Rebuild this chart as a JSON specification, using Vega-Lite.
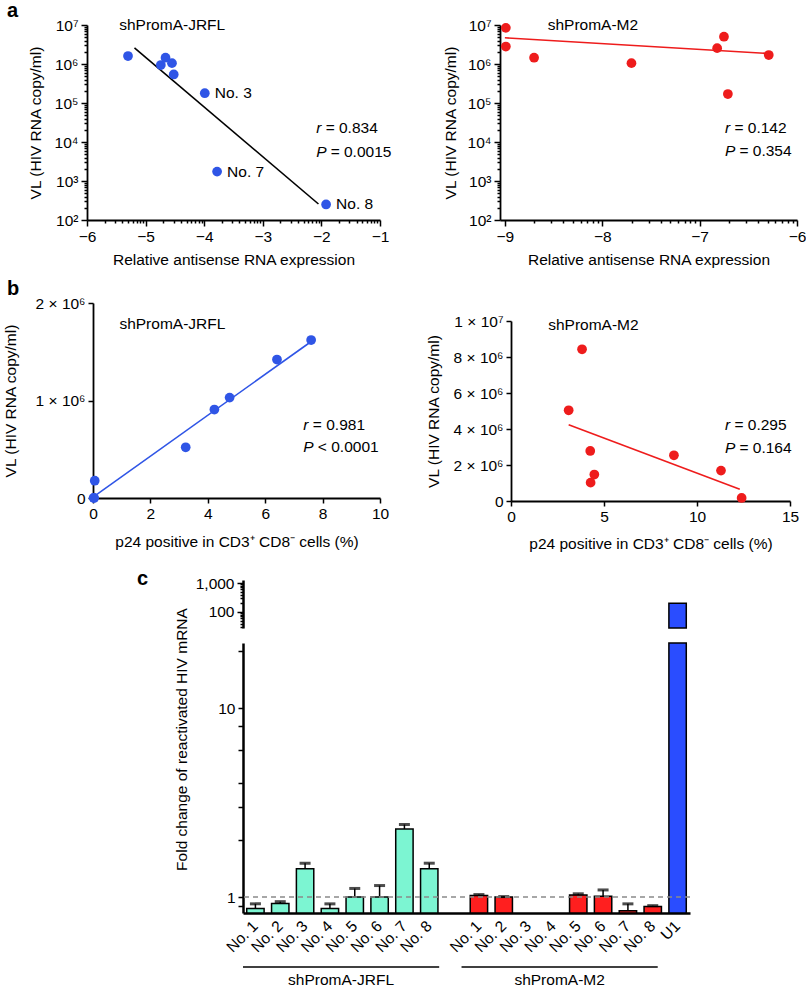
{
  "$schema": "https://vega.github.io/schema/vega-lite/v6.json",
  "padding": 0,
  "background": "white",
  "bounds": "flush",
  "spacing": 0,
  "config": {
    "view": {"stroke": null},
    "font": "Liberation Sans",
    "text": {"font": "Liberation Sans", "fontSize": 15.5, "color": "black"},
    "title": {"font": "Liberation Sans"},
    "axis": {"domainColor": "black", "domainWidth": 1.8, "tickColor": "black", "tickWidth": 1.5, "tickSize": 5,
      "labelFont": "Liberation Sans", "labelFontSize": 15.5, "labelColor": "black",
      "titleFont": "Liberation Sans", "titleFontSize": 15.5, "titleFontWeight": "normal", "titleColor": "black",
      "grid": false, "labelFlush": false, "labelOverlap": false, "labelPadding": 3, "titlePadding": 8}
  },
  "datasets": {
    "aL_pts": [
      {"x": -5.30, "vl": 1600000, "lab": ""},
      {"x": -4.74, "vl": 940000, "lab": ""},
      {"x": -4.66, "vl": 1450000, "lab": ""},
      {"x": -4.55, "vl": 1050000, "lab": ""},
      {"x": -4.52, "vl": 540000, "lab": ""},
      {"x": -3.99, "vl": 178000, "lab": "No. 3"},
      {"x": -3.78, "vl": 1740, "lab": "No. 7"},
      {"x": -1.92, "vl": 250, "lab": "No. 8"}
    ],
    "aL_fit": [{"x": -5.19, "vl": 2600000}, {"x": -2.05, "vl": 257}],
    "aL_txt": [{"x": -5.45, "vl": 10000000, "t": "shPromA-JRFL"}],
    "aL_stat": [{"x": -2.09, "vl": 22400, "sym": "r", "rest": "= 0.834"}, {"x": -2.09, "vl": 5600, "sym": "P", "rest": "= 0.0015"}],
    "aR_pts": [
      {"x": -8.99, "vl": 8450000},
      {"x": -8.99, "vl": 2800000},
      {"x": -8.70, "vl": 1450000},
      {"x": -7.70, "vl": 1050000},
      {"x": -6.82, "vl": 2550000},
      {"x": -6.75, "vl": 5000000},
      {"x": -6.71, "vl": 170000},
      {"x": -6.29, "vl": 1700000}
    ],
    "aR_fit": [{"x": -9.0, "vl": 4700000}, {"x": -6.32, "vl": 1870000}],
    "aR_txt": [{"x": -8.56, "vl": 10000000, "t": "shPromA-M2"}],
    "aR_stat": [{"x": -6.74, "vl": 22400, "sym": "r", "rest": "= 0.142"}, {"x": -6.74, "vl": 5800, "sym": "P", "rest": "= 0.354"}],
    "bL_pts": [
      {"p": 0.06, "vl": 177000},
      {"p": 0.02, "vl": 1740},
      {"p": 0.04, "vl": 250},
      {"p": 3.23, "vl": 520000},
      {"p": 4.23, "vl": 907000},
      {"p": 4.76, "vl": 1030000},
      {"p": 6.41, "vl": 1420000},
      {"p": 7.60, "vl": 1620000}
    ],
    "bL_fit": [{"p": 0.05, "vl": 20000}, {"p": 7.58, "vl": 1600000}],
    "bL_txt": [{"p": 0.92, "vl": 1780000, "t": "shPromA-JRFL"}],
    "bL_stat": [{"p": 7.33, "vl": 750000, "sym": "r", "rest": "= 0.981"}, {"p": 7.33, "vl": 520000, "sym": "P", "rest": "< 0.0001"}],
    "bR_pts": [
      {"p": 3.82, "vl": 8430000},
      {"p": 3.10, "vl": 5040000},
      {"p": 4.26, "vl": 2780000},
      {"p": 4.48, "vl": 1470000},
      {"p": 4.28, "vl": 1020000},
      {"p": 8.76, "vl": 2540000},
      {"p": 11.29, "vl": 1690000},
      {"p": 12.40, "vl": 170000}
    ],
    "bR_fit": [{"p": 3.1, "vl": 4240000}, {"p": 12.3, "vl": 650000}],
    "bR_txt": [{"p": 2.0, "vl": 9800000, "t": "shPromA-M2"}],
    "bR_stat": [{"p": 11.5, "vl": 4200000, "sym": "r", "rest": "= 0.295"}, {"p": 11.5, "vl": 2970000, "sym": "P", "rest": "= 0.164"}],
    "c": [
      {"cat": "J1", "grp": "JRFL", "v": 0.87, "err": 0.92},
      {"cat": "J2", "grp": "JRFL", "v": 0.925, "err": 0.945},
      {"cat": "J3", "grp": "JRFL", "v": 1.41, "err": 1.51},
      {"cat": "J4", "grp": "JRFL", "v": 0.87, "err": 0.92},
      {"cat": "J5", "grp": "JRFL", "v": 1.0, "err": 1.11},
      {"cat": "J6", "grp": "JRFL", "v": 1.0, "err": 1.15},
      {"cat": "J7", "grp": "JRFL", "v": 2.29, "err": 2.42},
      {"cat": "J8", "grp": "JRFL", "v": 1.41, "err": 1.51},
      {"cat": "M1", "grp": "M2", "v": 1.02, "err": 1.03},
      {"cat": "M2", "grp": "M2", "v": 1.0, "err": 1.005},
      {"cat": "M5", "grp": "M2", "v": 1.025, "err": 1.04},
      {"cat": "M6", "grp": "M2", "v": 1.01, "err": 1.09},
      {"cat": "M7", "grp": "M2", "v": 0.846, "err": 0.92},
      {"cat": "M8", "grp": "M2", "v": 0.89, "err": 0.9},
      {"cat": "U1", "grp": "U1", "v": 200}
    ],
    "cg": [
      {"grp": "shPromA-JRFL", "s": 0, "e": 7.9, "m": 3.95},
      {"grp": "shPromA-M2", "s": 8.8, "e": 16.7, "m": 12.75}
    ]
  },
  "vconcat": [
    {"width": 1, "height": 25, "data": {"values": []}, "mark": "point"},
    {
      "bounds": "flush", "spacing": 0,
      "hconcat": [
        {"width": 87, "height": 195, "data": {"values": []}, "mark": "point"},
        {
          "width": 293, "height": 195,
          "title": {"text": "a", "anchor": "start", "frame": "group", "fontSize": 20, "fontWeight": "bold", "dx": -80, "offset": -3},
          "encoding": {
            "x": {"field": "x", "type": "quantitative", "scale": {"domain": [-6, -1], "nice": false, "zero": false},
              "axis": {"title": "Relative antisense RNA expression", "labelOverlap": false, "labelFlush": false,
                "values": [-6, -5.69897, -5.52288, -5.39794, -5.30103, -5.22185, -5.1549, -5.09691, -5.04576, -5, -4.69897, -4.52288, -4.39794, -4.30103, -4.22185, -4.1549, -4.09691, -4.04576, -4, -3.69897, -3.52288, -3.39794, -3.30103, -3.22185, -3.1549, -3.09691, -3.04576, -3, -2.69897, -2.52288, -2.39794, -2.30103, -2.22185, -2.1549, -2.09691, -2.04576, -2, -1.69897, -1.52288, -1.39794, -1.30103, -1.22185, -1.1549, -1.09691, -1.04576, -1],
                "labelExpr": "datum.value == -6 ? '−6' : datum.value == -5 ? '−5' : datum.value == -4 ? '−4' : datum.value == -3 ? '−3' : datum.value == -2 ? '−2' : datum.value == -1 ? '−1' : ''",
                "tickSize": {"condition": {"test": "datum.value == round(datum.value)", "value": 6}, "value": 3}}},
            "y": {"field": "vl", "type": "quantitative", "scale": {"type": "log", "domain": [100, 10000000], "nice": false},
              "axis": {"title": "VL (HIV RNA copy/ml)", "labelOverlap": false, "titlePadding": 11,
                "values": [100, 200, 300, 400, 500, 600, 700, 800, 900, 1000, 2000, 3000, 4000, 5000, 6000, 7000, 8000, 9000, 10000, 20000, 30000, 40000, 50000, 60000, 70000, 80000, 90000, 100000, 200000, 300000, 400000, 500000, 600000, 700000, 800000, 900000, 1000000, 2000000, 3000000, 4000000, 5000000, 6000000, 7000000, 8000000, 9000000, 10000000],
                "labelExpr": "datum.value == 100 ? '10²' : datum.value == 1000 ? '10³' : datum.value == 10000 ? '10⁴' : datum.value == 100000 ? '10⁵' : datum.value == 1000000 ? '10⁶' : datum.value == 10000000 ? '10⁷' : ''",
                "tickSize": {"condition": {"test": "indexof([100, 1000, 10000, 100000, 1000000, 10000000], datum.value) >= 0", "value": 6}, "value": 3}}}
          },
          "layer": [
            {"data": {"name": "aL_fit"}, "mark": {"type": "line", "color": "black", "strokeWidth": 1.6}, "encoding": {}},
            {"data": {"name": "aL_pts"}, "mark": {"type": "point", "filled": true, "opacity": 1, "size": 95, "color": "#2f55e6"}},
            {"data": {"name": "aL_pts"}, "mark": {"type": "text", "align": "left", "baseline": "middle", "dx": 10}, "encoding": {"text": {"field": "lab"}}},
            {"data": {"name": "aL_txt"}, "mark": {"type": "text", "align": "left", "baseline": "middle"}, "encoding": {"text": {"field": "t"}}},
            {"data": {"name": "aL_stat"}, "mark": {"type": "text", "align": "left", "baseline": "middle", "fontStyle": "italic"}, "encoding": {"text": {"field": "sym"}}},
            {"data": {"name": "aL_stat"}, "transform": [{"filter": "datum.sym == 'r'"}], "mark": {"type": "text", "align": "left", "baseline": "middle", "dx": 9.5}, "encoding": {"text": {"field": "rest"}}},
            {"data": {"name": "aL_stat"}, "transform": [{"filter": "datum.sym == 'P'"}], "mark": {"type": "text", "align": "left", "baseline": "middle", "dx": 14.5}, "encoding": {"text": {"field": "rest"}}}
          ]
        },
        {"width": 120, "height": 195, "data": {"values": []}, "mark": "point"},
        {
          "width": 297, "height": 195,
          "encoding": {
            "x": {"field": "x", "type": "quantitative", "scale": {"domain": [-9.05, -6], "nice": false, "zero": false},
              "axis": {"title": "Relative antisense RNA expression", "labelOverlap": false, "labelFlush": false,
                "values": [-9, -8.69897, -8.52288, -8.39794, -8.30103, -8.22185, -8.1549, -8.09691, -8.04576, -8, -7.69897, -7.52288, -7.39794, -7.30103, -7.22185, -7.1549, -7.09691, -7.04576, -7, -6.69897, -6.52288, -6.39794, -6.30103, -6.22185, -6.1549, -6.09691, -6.04576, -6],
                "labelExpr": "datum.value == -9 ? '−9' : datum.value == -8 ? '−8' : datum.value == -7 ? '−7' : datum.value == -6 ? '−6' : ''",
                "tickSize": {"condition": {"test": "datum.value == round(datum.value)", "value": 6}, "value": 3}}},
            "y": {"field": "vl", "type": "quantitative", "scale": {"type": "log", "domain": [100, 10000000], "nice": false},
              "axis": {"title": "VL (HIV RNA copy/ml)", "labelOverlap": false, "titlePadding": 9,
                "values": [100, 200, 300, 400, 500, 600, 700, 800, 900, 1000, 2000, 3000, 4000, 5000, 6000, 7000, 8000, 9000, 10000, 20000, 30000, 40000, 50000, 60000, 70000, 80000, 90000, 100000, 200000, 300000, 400000, 500000, 600000, 700000, 800000, 900000, 1000000, 2000000, 3000000, 4000000, 5000000, 6000000, 7000000, 8000000, 9000000, 10000000],
                "labelExpr": "datum.value == 100 ? '10²' : datum.value == 1000 ? '10³' : datum.value == 10000 ? '10⁴' : datum.value == 100000 ? '10⁵' : datum.value == 1000000 ? '10⁶' : datum.value == 10000000 ? '10⁷' : ''",
                "tickSize": {"condition": {"test": "indexof([100, 1000, 10000, 100000, 1000000, 10000000], datum.value) >= 0", "value": 6}, "value": 3}}}
          },
          "layer": [
            {"data": {"name": "aR_fit"}, "mark": {"type": "line", "color": "#ee1c1c", "strokeWidth": 1.6}, "encoding": {}},
            {"data": {"name": "aR_pts"}, "mark": {"type": "point", "filled": true, "opacity": 1, "size": 95, "color": "#ee1c1c"}},
            {"data": {"name": "aR_txt"}, "mark": {"type": "text", "align": "left", "baseline": "middle"}, "encoding": {"text": {"field": "t"}}},
            {"data": {"name": "aR_stat"}, "mark": {"type": "text", "align": "left", "baseline": "middle", "fontStyle": "italic"}, "encoding": {"text": {"field": "sym"}}},
            {"data": {"name": "aR_stat"}, "transform": [{"filter": "datum.sym == 'r'"}], "mark": {"type": "text", "align": "left", "baseline": "middle", "dx": 9.5}, "encoding": {"text": {"field": "rest"}}},
            {"data": {"name": "aR_stat"}, "transform": [{"filter": "datum.sym == 'P'"}], "mark": {"type": "text", "align": "left", "baseline": "middle", "dx": 14.5}, "encoding": {"text": {"field": "rest"}}}
          ]
        }
      ]
    },
    {"width": 1, "height": 278, "data": {"values": []}, "mark": "point"},
    {
      "bounds": "flush", "spacing": 0,
      "hconcat": [
        {"width": 93, "height": 195, "data": {"values": []}, "mark": "point"},
        {
          "width": 287, "height": 195,
          "title": {"text": "b", "anchor": "start", "frame": "group", "fontSize": 20, "fontWeight": "bold", "dx": -86, "offset": -3},
          "encoding": {
            "x": {"field": "p", "type": "quantitative", "scale": {"domain": [0, 10], "nice": false},
              "axis": {"title": "p24 positive in CD3⁺ CD8⁻ cells (%)", "values": [0, 2, 4, 6, 8, 10], "titlePadding": 13}},
            "y": {"field": "vl", "type": "quantitative", "scale": {"domain": [0, 2000000], "nice": false},
              "axis": {"title": "VL (HIV RNA copy/ml)", "values": [0, 1000000, 2000000], "titlePadding": 17,
                "labelExpr": "datum.value == 0 ? '0' : (datum.value / 1000000) + ' × 10⁶'"}}
          },
          "layer": [
            {"data": {"name": "bL_fit"}, "mark": {"type": "line", "color": "#2f55e6", "strokeWidth": 1.6}, "encoding": {}},
            {"data": {"name": "bL_pts"}, "mark": {"type": "point", "filled": true, "opacity": 1, "size": 95, "color": "#2f55e6"}},
            {"data": {"name": "bL_txt"}, "mark": {"type": "text", "align": "left", "baseline": "middle"}, "encoding": {"text": {"field": "t"}}},
            {"data": {"name": "bL_stat"}, "mark": {"type": "text", "align": "left", "baseline": "middle", "fontStyle": "italic"}, "encoding": {"text": {"field": "sym"}}},
            {"data": {"name": "bL_stat"}, "transform": [{"filter": "datum.sym == 'r'"}], "mark": {"type": "text", "align": "left", "baseline": "middle", "dx": 9.5}, "encoding": {"text": {"field": "rest"}}},
            {"data": {"name": "bL_stat"}, "transform": [{"filter": "datum.sym == 'P'"}], "mark": {"type": "text", "align": "left", "baseline": "middle", "dx": 14.5}, "encoding": {"text": {"field": "rest"}}}
          ]
        },
        {"width": 131, "height": 195, "data": {"values": []}, "mark": "point"},
        {
          "bounds": "flush", "spacing": 0,
          "vconcat": [
            {"width": 1, "height": 18, "data": {"values": []}, "mark": "point"},
            {
              "width": 279, "height": 180,
              "encoding": {
                "x": {"field": "p", "type": "quantitative", "scale": {"domain": [0, 15], "nice": false},
                  "axis": {"title": "p24 positive in CD3⁺ CD8⁻ cells (%)", "values": [0, 5, 10, 15], "titlePadding": 12}},
                "y": {"field": "vl", "type": "quantitative", "scale": {"domain": [0, 10000000], "nice": false},
                  "axis": {"title": "VL (HIV RNA copy/ml)", "values": [0, 2000000, 4000000, 6000000, 8000000, 10000000], "titlePadding": 12,
                    "labelExpr": "datum.value == 0 ? '0' : datum.value == 10000000 ? '1 × 10⁷' : (datum.value / 1000000) + ' × 10⁶'"}}
              },
              "layer": [
                {"data": {"name": "bR_fit"}, "mark": {"type": "line", "color": "#ee1c1c", "strokeWidth": 1.6}, "encoding": {}},
                {"data": {"name": "bR_pts"}, "mark": {"type": "point", "filled": true, "opacity": 1, "size": 95, "color": "#ee1c1c"}},
                {"data": {"name": "bR_txt"}, "mark": {"type": "text", "align": "left", "baseline": "middle"}, "encoding": {"text": {"field": "t"}}},
                {"data": {"name": "bR_stat"}, "mark": {"type": "text", "align": "left", "baseline": "middle", "fontStyle": "italic"}, "encoding": {"text": {"field": "sym"}}},
                {"data": {"name": "bR_stat"}, "transform": [{"filter": "datum.sym == 'r'"}], "mark": {"type": "text", "align": "left", "baseline": "middle", "dx": 9.5}, "encoding": {"text": {"field": "rest"}}},
                {"data": {"name": "bR_stat"}, "transform": [{"filter": "datum.sym == 'P'"}], "mark": {"type": "text", "align": "left", "baseline": "middle", "dx": 14.5}, "encoding": {"text": {"field": "rest"}}}
              ]
            }
          ]
        }
      ]
    },
    {"width": 1, "height": 277, "data": {"values": []}, "mark": "point"},
    {
      "bounds": "flush", "spacing": 0,
      "hconcat": [
        {"width": 243, "height": 48, "data": {"values": []}, "mark": "point"},
        {
          "width": 447, "height": 48,
          "title": {"text": "c", "anchor": "start", "frame": "group", "fontSize": 20, "fontWeight": "bold", "dx": -106, "offset": -13},
          "data": {"name": "c"},
          "transform": [{"filter": "datum.v > 28"}],
          "mark": {"type": "bar", "stroke": "black", "strokeWidth": 1.5},
          "encoding": {
            "x": {"field": "cat", "type": "nominal", "title": null,
              "scale": {"domain": ["J1", "J2", "J3", "J4", "J5", "J6", "J7", "J8", "gap", "M1", "M2", "M3", "M4", "M5", "M6", "M7", "M8", "U1"], "paddingInner": 0.3, "paddingOuter": 0.15},
              "axis": null},
            "y": {"field": "v", "type": "quantitative", "title": null,
              "scale": {"type": "log", "domain": [28, 1270], "nice": false},
              "axis": {"values": [30, 40, 50, 60, 70, 80, 90, 100, 200, 300, 400, 500, 600, 700, 800, 900, 1000],
                "labelExpr": "datum.value == 100 ? '100' : datum.value == 1000 ? '1,000' : ''",
                "tickSize": {"condition": {"test": "datum.value == 100 || datum.value == 1000", "value": 6}, "value": 3},
                "tickWidth": 1.5, "domainWidth": 2.5}},
            "y2": {"datum": 28},
            "color": {"field": "grp", "type": "nominal", "scale": {"domain": ["JRFL", "M2", "U1"], "range": ["#7cf5d2", "#ff1f1f", "#2a4dff"]}, "legend": null}
          }
        }
      ]
    },
    {"width": 1, "height": 63, "data": {"values": []}, "mark": "point"},
    {
      "bounds": "flush", "spacing": 0,
      "hconcat": [
        {"width": 243, "height": 270, "data": {"values": []}, "mark": "point"},
        {
          "width": 447, "height": 270,
          "layer": [
            {
              "data": {"name": "c"},
              "mark": {"type": "bar", "stroke": "black", "strokeWidth": 1.5},
              "encoding": {
                "x": {"field": "cat", "type": "nominal", "title": null,
                  "scale": {"domain": ["J1", "J2", "J3", "J4", "J5", "J6", "J7", "J8", "gap", "M1", "M2", "M3", "M4", "M5", "M6", "M7", "M8", "U1"], "paddingInner": 0.3, "paddingOuter": 0.15},
                  "axis": {"labelAngle": -45, "labelAlign": "right", "labelBaseline": "middle", "ticks": false, "labelPadding": 10, "domainWidth": 2.5,
                    "labelExpr": "datum.value == 'U1' ? 'U1' : datum.value == 'gap' ? '' : 'No. ' + substring(datum.value, 1)"}},
                "y": {"field": "v", "type": "quantitative", "title": "Fold change of reactivated HIV mRNA",
                  "scale": {"type": "log", "domain": [0.823, 22.1], "nice": false, "clamp": true},
                  "axis": {"values": [0.9, 1, 2, 3, 4, 6, 8, 10, 20],
                    "labelExpr": "datum.value == 1 ? '1' : datum.value == 10 ? '10' : ''",
                    "tickSize": 5, "tickWidth": 1.5, "domainWidth": 2.5, "titlePadding": 28, "titleY": 96}},
                "y2": {"datum": 0.823},
                "color": {"field": "grp", "type": "nominal", "scale": {"domain": ["JRFL", "M2", "U1"], "range": ["#7cf5d2", "#ff1f1f", "#2a4dff"]}, "legend": null}
              }
            },
            {
              "data": {"name": "c"},
              "transform": [{"filter": "isValid(datum.err)"}],
              "mark": {"type": "rule", "color": "black", "strokeWidth": 1.5},
              "encoding": {
                "x": {"field": "cat", "type": "nominal", "title": null},
                "y": {"field": "v", "type": "quantitative", "title": "Fold change of reactivated HIV mRNA"},
                "y2": {"field": "err"}
              }
            },
            {
              "data": {"name": "c"},
              "transform": [{"filter": "isValid(datum.err)"}],
              "mark": {"type": "tick", "color": "black", "thickness": 3, "size": 11, "orient": "horizontal"},
              "encoding": {
                "x": {"field": "cat", "type": "nominal", "title": null},
                "y": {"field": "err", "type": "quantitative", "title": "Fold change of reactivated HIV mRNA"}
              }
            },
            {
              "data": {"values": [{}]},
              "mark": {"type": "rule", "color": "#8a8a8a", "strokeWidth": 1.5, "strokeDash": [5, 4]},
              "encoding": {"y": {"datum": 1, "type": "quantitative"}}
            }
          ]
        }
      ]
    },
    {"width": 1, "height": 324, "data": {"values": []}, "mark": "point"},
    {
      "bounds": "flush", "spacing": 0,
      "hconcat": [
        {"width": 243, "height": 18, "data": {"values": []}, "mark": "point"},
        {
          "width": 447, "height": 18,
          "data": {"name": "cg"},
          "layer": [
            {"mark": {"type": "rule", "color": "black", "strokeWidth": 1.5},
              "encoding": {
                "x": {"field": "s", "type": "quantitative", "scale": {"domain": [0, 18], "nice": false, "zero": false}, "axis": null},
                "x2": {"field": "e"},
                "y": {"datum": 1, "type": "quantitative", "scale": {"domain": [0, 1]}, "axis": null}
              }},
            {"mark": {"type": "text", "align": "center", "baseline": "alphabetic"},
              "encoding": {
                "x": {"field": "m", "type": "quantitative"},
                "y": {"datum": 0, "type": "quantitative"},
                "text": {"field": "grp"}
              }}
          ]
        }
      ]
    }
  ]
}
